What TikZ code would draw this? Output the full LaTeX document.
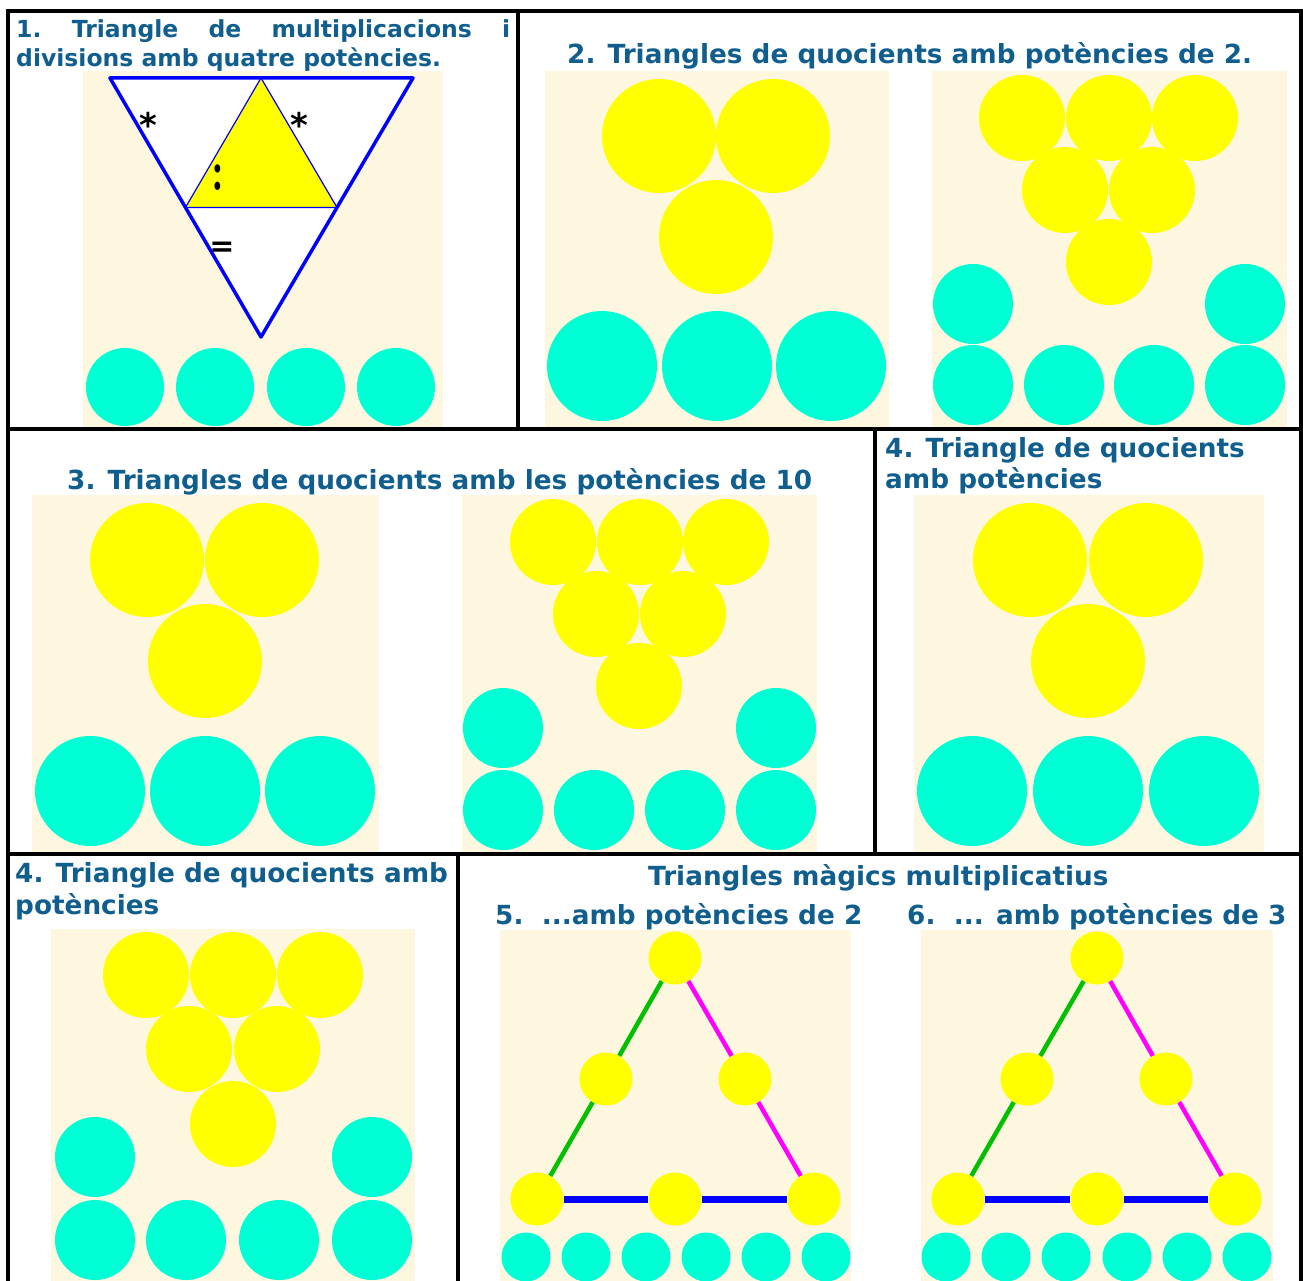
\documentclass[tikz,border=0pt]{standalone}
\usepackage{fontspec}
\setmainfont{DejaVu Sans}
\newfontfamily\lmfont{Latin Modern Roman}
\usetikzlibrary{positioning}
\definecolor{titleblue}{RGB}{16,94,142}
\definecolor{cream}{RGB}{253,247,224}
\definecolor{aqua}{RGB}{0,255,212}
\definecolor{sidegreen}{RGB}{0,192,0}
\definecolor{sunyellow}{RGB}{255,255,0}
\definecolor{pinkline}{RGB}{255,0,255}
\definecolor{pureblue}{RGB}{0,0,255}

\begin{document}
\begin{tikzpicture}[x=1pt,y=-1pt,
    title/.style={text=titleblue,font=\bfseries\fontsize{26.3}{30}\selectfont,inner sep=0pt,anchor=base west},
    titlesmall/.style={title,font=\bfseries\fontsize{23.5}{28}\selectfont},
    sym/.style={inner sep=0pt,text=black},
    ydot/.style={circle,fill=sunyellow,minimum size=53pt,inner sep=0pt},
    border/.style={line width=4pt}]
  \useasboundingbox (0,0) rectangle (1303,1281);
  % cream backgrounds
  \fill[cream] (83,71) rectangle (443,428);
  \fill[cream] (545,71) rectangle (889,428);
  \fill[cream] (932,71) rectangle (1287,428);
  \fill[cream] (32,495) rectangle (379,852);
  \fill[cream] (462,495) rectangle (817,852);
  \fill[cream] (914,495) rectangle (1264,852);
  \fill[cream] (51,929) rectangle (415,1281);
  \fill[cream] (500,930) rectangle (851,1281);
  \fill[cream] (921,930) rectangle (1273,1281);

  % 1. triangle of products and quotients
  \filldraw[fill=white,draw=pureblue,line width=3.5pt,line join=round] (110,78) -- (413,78) -- (261,337) -- cycle;
  \filldraw[fill=sunyellow,draw=pureblue,line width=1.2pt] (261,78) -- (185.5,207.5) -- (337,207.5) -- cycle;
  \node[sym,anchor=north,font=\bfseries\fontsize{34}{34}\selectfont] (st1) at (148,112) {*};
  \node[sym,anchor=north,font=\bfseries\fontsize{34}{34}\selectfont] (st2) at (299,112) {*};
  \node[sym] (dv) at (218,178) {\scalebox{0.7}[1]{\lmfont\bfseries\fontsize{58}{58}\selectfont :}};
  \node[sym,font=\bfseries\fontsize{30}{30}\selectfont] (eq) at (222,249) {=};
  \foreach \x in {125,215,306,396} \fill[aqua] (\x,387) circle (39);

  % 2. powers of 2
  \foreach \x/\y in {659/136,773/136,716/237} \fill[sunyellow] (\x,\y) circle (57);
  \foreach \x in {602,717,831} \fill[aqua] (\x,366) circle (55);
  \foreach \x/\y in {1022/118,1109/118,1195/118,1065/190,1152/190,1109/262} \fill[sunyellow] (\x,\y) circle (43);
  \foreach \x/\y in {973/304,1245/304,973/385,1064/385,1154/385,1245/385} \fill[aqua] (\x,\y) circle (40);

  % 3. powers of 10
  \foreach \x/\y in {147/560,262/560,205/661} \fill[sunyellow] (\x,\y) circle (57);
  \foreach \x in {90,205,320} \fill[aqua] (\x,791) circle (55);
  \foreach \x/\y in {553/542,640/542,726/542,596/614,683/614,639/686} \fill[sunyellow] (\x,\y) circle (43);
  \foreach \x/\y in {503/728,776/728,503/810,594/810,685/810,776/810} \fill[aqua] (\x,\y) circle (40);

  % 4. quotients
  \foreach \x/\y in {1030/560,1146/560,1088/661} \fill[sunyellow] (\x,\y) circle (57);
  \foreach \x in {972,1088,1204} \fill[aqua] (\x,791) circle (55);
  \foreach \x/\y in {146/975,233/975,320/975,189/1049,277/1049,233/1124} \fill[sunyellow] (\x,\y) circle (43);
  \foreach \x/\y in {95/1157,372/1157,95/1240,186/1240,279/1240,372/1240} \fill[aqua] (\x,\y) circle (40);

  % 5. and 6. magic triangles
  \node[ydot] (a1) at (675,958) {};
  \node[ydot] (a2) at (606,1079) {};
  \node[ydot] (a3) at (745,1079) {};
  \node[ydot] (a4) at (537,1199) {};
  \node[ydot] (a5) at (675,1199) {};
  \node[ydot] (a6) at (814,1199) {};
  \node[ydot] (b1) at (1097,958) {};
  \node[ydot] (b2) at (1027,1079) {};
  \node[ydot] (b3) at (1166,1079) {};
  \node[ydot] (b4) at (958,1199) {};
  \node[ydot] (b5) at (1097,1199) {};
  \node[ydot] (b6) at (1235,1199) {};
  \foreach \p in {a,b} {
    \draw[sidegreen,line width=4.5pt] (\p1) -- (\p2); \draw[sidegreen,line width=4.5pt] (\p2) -- (\p4);
    \draw[pinkline,line width=4.5pt] (\p1) -- (\p3); \draw[pinkline,line width=4.5pt] (\p3) -- (\p6);
    \draw[pureblue,line width=7pt] (\p4) -- (\p5); \draw[pureblue,line width=7pt] (\p5) -- (\p6);
  }
  \foreach \x in {526,586,646,706,766,826,946,1006,1066,1127,1187,1247} \fill[aqua] (\x,1257) circle (24.5);

  % titles
  \node[titlesmall] (t1a) at (16,38) {\hbox to 494pt{1.\hfill Triangle\hfill de\hfill multiplicacions\hfill i}};
  \node[titlesmall] (t1b) at (16,67) {divisions amb quatre potències.};
  \node[title] (t2) at (567,64) {2. Triangles de quocients amb potències de 2.};
  \node[title] (t3) at (67,489) {3. Triangles de quocients amb les potències de 10};
  \node[title] (t4a) at (885,457) {4. Triangle de quocients};
  \node[title] (t4b) at (885,488) {amb potències};
  \node[title] (t5a) at (15,882) {4. Triangle de quocients amb};
  \node[title] (t5b) at (15,914) {potències};
  \node[title] (t6) at (648,885) {Triangles màgics multiplicatius};
  \node[title] (t6a) at (495,924) {5.\ \ ...amb potències de 2};
  \node[title] (t6b) at (907,924) {6.\ \ ... amb potències de 3};

  % frame
  \draw[border] (8,1281) -- (8,11) -- (1301,11) -- (1301,1281);
  \draw[border] (8,429) -- (1301,429);
  \draw[border] (8,854) -- (1301,854);
  \draw[border] (518,11) -- (518,429);
  \draw[border] (875,429) -- (875,854);
  \draw[border] (458,854) -- (458,1281);
\end{tikzpicture}
\end{document}
